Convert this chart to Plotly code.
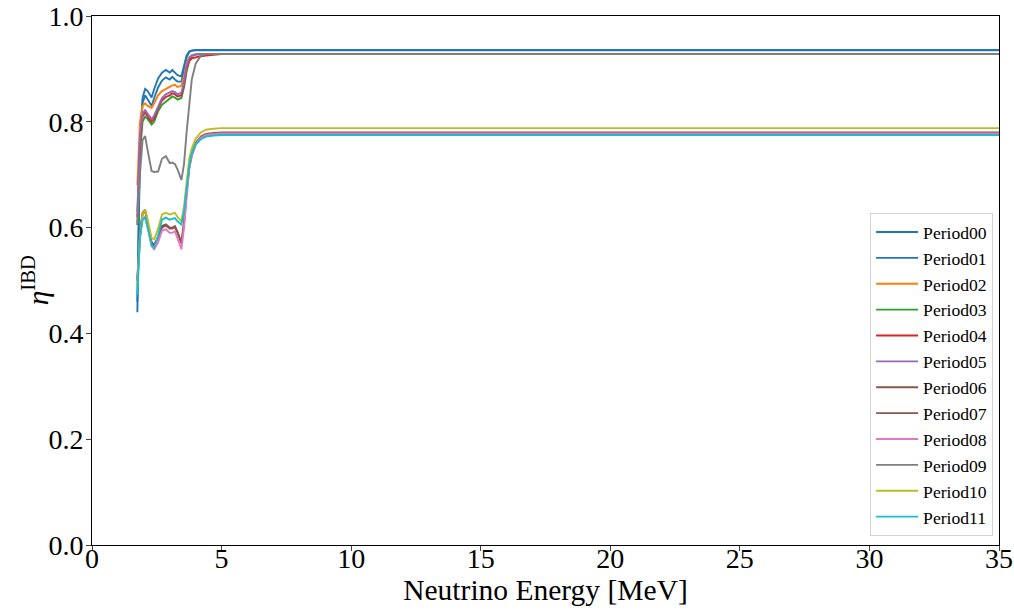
import plotly.graph_objects as go

energy = [1.75, 1.85, 1.95, 2.05, 2.15, 2.3, 2.4, 2.55, 2.7, 2.85, 3.0, 3.1, 3.2, 3.3,
          3.45, 3.55, 3.65, 3.75, 3.85, 4.0, 4.2, 4.4, 4.7, 5.0, 6.0, 35.0]

period00 = [0.46, 0.76, 0.845, 0.862, 0.858, 0.846, 0.862, 0.882, 0.893, 0.898, 0.893, 0.898, 0.893, 0.888,
            0.886, 0.905, 0.925, 0.933, 0.935, 0.936, 0.936, 0.936, 0.936, 0.936, 0.936, 0.936]
period01 = [0.44, 0.74, 0.835, 0.850, 0.842, 0.830, 0.845, 0.865, 0.878, 0.884, 0.880, 0.885, 0.880, 0.876,
            0.876, 0.900, 0.922, 0.932, 0.934, 0.935, 0.935, 0.935, 0.935, 0.935, 0.935, 0.935]
period02 = [0.68, 0.80, 0.830, 0.835, 0.830, 0.826, 0.835, 0.850, 0.858, 0.862, 0.866, 0.869, 0.870, 0.866,
            0.868, 0.885, 0.910, 0.922, 0.926, 0.928, 0.928, 0.928, 0.928, 0.928, 0.928, 0.928]
period03 = [0.605, 0.74, 0.800, 0.810, 0.805, 0.795, 0.800, 0.820, 0.832, 0.838, 0.845, 0.848, 0.846, 0.842,
            0.845, 0.865, 0.895, 0.915, 0.924, 0.927, 0.928, 0.928, 0.928, 0.928, 0.928, 0.928]
period04 = [0.62, 0.76, 0.810, 0.818, 0.810, 0.800, 0.806, 0.826, 0.840, 0.847, 0.850, 0.854, 0.852, 0.848,
            0.850, 0.870, 0.900, 0.915, 0.920, 0.922, 0.924, 0.925, 0.926, 0.928, 0.928, 0.928]
period05 = [0.63, 0.77, 0.815, 0.822, 0.815, 0.805, 0.812, 0.830, 0.845, 0.852, 0.855, 0.858, 0.856, 0.852,
            0.855, 0.875, 0.905, 0.920, 0.925, 0.927, 0.928, 0.928, 0.928, 0.928, 0.928, 0.928]
period06 = [0.50, 0.59, 0.628, 0.634, 0.610, 0.572, 0.568, 0.582, 0.603, 0.606, 0.600, 0.600, 0.603, 0.592,
            0.572, 0.610, 0.670, 0.715, 0.740, 0.760, 0.772, 0.777, 0.779, 0.780, 0.780, 0.780]
period07 = [0.50, 0.585, 0.625, 0.632, 0.608, 0.570, 0.566, 0.580, 0.600, 0.604, 0.598, 0.598, 0.601, 0.590,
            0.570, 0.606, 0.666, 0.712, 0.737, 0.757, 0.770, 0.775, 0.777, 0.778, 0.778, 0.778]
period08 = [0.50, 0.585, 0.615, 0.620, 0.600, 0.565, 0.559, 0.572, 0.594, 0.597, 0.590, 0.590, 0.593, 0.580,
            0.559, 0.600, 0.660, 0.710, 0.735, 0.757, 0.770, 0.775, 0.777, 0.778, 0.778, 0.778]
period09 = [0.607, 0.70, 0.765, 0.773, 0.745, 0.707, 0.705, 0.706, 0.730, 0.735, 0.722, 0.723, 0.720, 0.710,
            0.690, 0.720, 0.780, 0.830, 0.880, 0.910, 0.925, 0.928, 0.928, 0.928, 0.928, 0.928]
period10 = [0.49, 0.58, 0.625, 0.634, 0.615, 0.580, 0.578, 0.598, 0.625, 0.628, 0.625, 0.626, 0.628, 0.620,
            0.612, 0.640, 0.690, 0.730, 0.750, 0.768, 0.780, 0.785, 0.787, 0.788, 0.788, 0.788]
period11 = [0.473, 0.58, 0.615, 0.619, 0.600, 0.566, 0.562, 0.585, 0.615, 0.619, 0.615, 0.616, 0.618, 0.612,
            0.606, 0.630, 0.675, 0.715, 0.740, 0.757, 0.767, 0.772, 0.774, 0.775, 0.775, 0.775]

names = ["Period00", "Period01", "Period02", "Period03", "Period04", "Period05",
         "Period06", "Period07", "Period08", "Period09", "Period10", "Period11"]
series = [period00, period01, period02, period03, period04, period05,
          period06, period07, period08, period09, period10, period11]
colors = ["#1f77b4", "#1f77b4", "#ff7f0e", "#2ca02c", "#d62728", "#9467bd",
          "#8c564b", "#8c564b", "#e377c2", "#7f7f7f", "#bcbd22", "#17becf"]

x_ticks = [0, 5, 10, 15, 20, 25, 30, 35]
y_ticks = [0.0, 0.2, 0.4, 0.6, 0.8, 1.0]

fig = go.Figure()
for name, vals, col in zip(names, series, colors):
    fig.add_trace(go.Scatter(x=energy, y=vals, mode="lines", name=name,
                             line=dict(color=col, width=1.9)))

font_family = "Liberation Serif"
fig.update_layout(
    width=1014, height=610,
    margin=dict(l=92, r=15, t=16, b=65, autoexpand=False),
    paper_bgcolor="white", plot_bgcolor="white",
    font=dict(family=font_family, color="black", size=28),
    showlegend=True,
    legend=dict(x=0.9935, y=0.017, xanchor="right", yanchor="bottom",
                bgcolor="rgba(255,255,255,0.8)", bordercolor="#d3d3d3", borderwidth=1,
                font=dict(family=font_family, size=17.6, color="black"),
                itemwidth=42, tracegroupgap=0),
    annotations=[dict(text="<i>η</i><sup>IBD</sup>", xref="paper", yref="paper",
                      x=-0.063, y=0.5, xanchor="center", yanchor="middle",
                      textangle=-90, showarrow=False,
                      font=dict(size=29.5, family=font_family, color="black"))],
)
fig.update_xaxes(range=[0, 35], tickvals=x_ticks, ticks="outside", ticklen=5,
                 showline=True, linecolor="black", linewidth=1, mirror=True,
                 showgrid=False, zeroline=False, automargin=False,
                 ticklabelstandoff=-17, ticklabeloverflow="allow",
                 title=dict(text="Neutrino Energy [MeV]", standoff=0,
                            font=dict(size=29.5, family=font_family)),
                 tickfont=dict(size=28, family=font_family))
fig.update_yaxes(range=[0, 1.0], tickvals=y_ticks, tickformat=".1f", ticks="outside", ticklen=5,
                 showline=True, linecolor="black", linewidth=1, mirror=True,
                 showgrid=False, zeroline=False, automargin=False,
                 ticklabelstandoff=-3, ticklabeloverflow="allow",
                 tickfont=dict(size=28, family=font_family))

fig.write_html("out.html", config={"displayModeBar": False},
               post_script="document.body.style.margin='0';document.body.style.overflow='hidden';")
